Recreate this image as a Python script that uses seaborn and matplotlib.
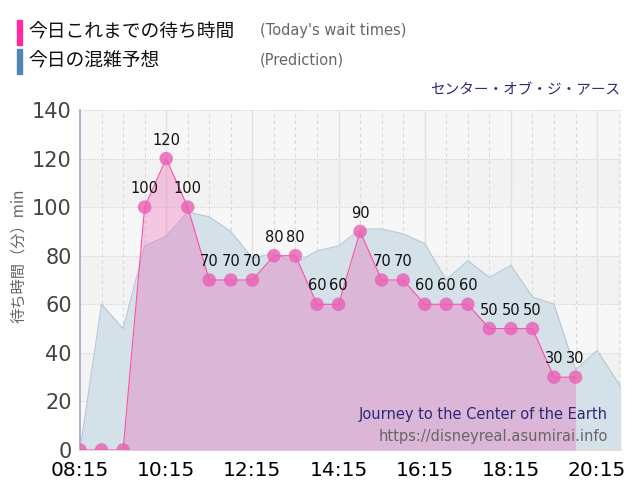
import numpy as np
import pandas as pd
import matplotlib
matplotlib.use("Agg")
import matplotlib.pyplot as plt
import seaborn as sns

# data
wait_times = ["08:15", "08:45", "09:15", "09:45", "10:15", "10:45", "11:15", "11:45",
              "12:15", "12:45", "13:15", "13:45", "14:15", "14:45", "15:15", "15:45",
              "16:15", "16:45", "17:15", "17:45", "18:15", "18:45", "19:15", "19:45"]
wait_values = [0, 0, 0, 100, 120, 100, 70, 70, 70, 80, 80, 60, 60, 90, 70, 70,
               60, 60, 60, 50, 50, 50, 30, 30]

pred_times = ["08:15", "08:45", "09:15", "09:45", "10:15", "10:45", "11:15", "11:45",
              "12:15", "12:45", "13:15", "13:45", "14:15", "14:45", "15:15", "15:45",
              "16:15", "16:45", "17:15", "17:45", "18:15", "18:45", "19:15", "19:45",
              "20:15", "20:48"]
pred_values = [0, 60, 50, 84, 88, 98, 96, 90, 79, 81, 77, 82, 84, 91, 91, 89,
               85, 70, 78, 71, 76, 63, 60, 33, 41, 26]

tick_labels = ["08:15", "10:15", "12:15", "14:15", "16:15", "18:15", "20:15"]


def to_hours(s):
    h, m = s.split(":")
    return int(h) + int(m) / 60


wait = pd.DataFrame({"t": [to_hours(s) for s in wait_times], "v": wait_values})
pred = pd.DataFrame({"t": [to_hours(s) for s in pred_times], "v": pred_values})
ticks = [to_hours(s) for s in tick_labels]

sns.set_theme(style="white")
plt.rcParams["font.family"] = ["Noto Sans CJK JP", "DejaVu Sans"]
latin = ["DejaVu Sans"]

fig = plt.figure(figsize=(6.4, 5.0), dpi=100)
ax = fig.add_axes([0.125, 0.1, 0.845, 0.68])

xmin, xmax = to_hours("08:15"), to_hours("20:48")
ax.set_xlim(xmin, xmax)
ax.set_ylim(0, 140)

# banded background
band_cols = ["#f7f7f7", "#f2f2f2"]
for i, y0 in enumerate(range(0, 140, 20)):
    ax.axhspan(y0, y0 + 20, color=band_cols[i % 2], zorder=0, lw=0)

for y in range(20, 141, 20):
    ax.axhline(y, color="#cfcfcf", lw=0.8, ls=(0, (1, 1.5)), zorder=1)
t = xmin + 0.5
while t < xmax:
    ax.axvline(t, color="#d8d8d8", lw=0.8, ls=(0, (3, 3)), zorder=1)
    t += 0.5
for tk in ticks[1:]:
    ax.axvline(tk, color="#e2e2e2", lw=1.0, zorder=1)

# prediction area
ax.fill_between(pred["t"], pred["v"], color="#d5e1e9", zorder=2, lw=0)
sns.lineplot(data=pred, x="t", y="v", ax=ax, color="#b4c7d6", lw=0.8, zorder=3)

# today's wait times
ax.fill_between(wait["t"], wait["v"], color="#ef55b0", alpha=0.3, zorder=4, lw=0)
sns.lineplot(data=wait, x="t", y="v", ax=ax, color="#ff4fa8", lw=0.8, zorder=5)
sns.scatterplot(data=wait, x="t", y="v", ax=ax, color="#ea5fb4", s=95, alpha=0.8,
                edgecolor="none", zorder=6)

for tv, vv in zip(wait["t"], wait["v"]):
    if vv > 0:
        ax.text(tv, vv + 4.5, str(vv), ha="center", va="bottom", fontsize=10.5,
                color="#111111", family=latin, zorder=7)

ax.set_xticks(ticks)
ax.set_xticklabels(tick_labels)
ax.set_yticks(range(0, 141, 20))
ax.tick_params(axis="x", labelsize=14.5, colors="#000000", length=6, color="#d0d0d0", pad=2)
ax.tick_params(axis="y", labelsize=15, labelcolor="#444444", length=0, pad=6)
for lab in ax.get_xticklabels() + ax.get_yticklabels():
    lab.set_family(latin)
ax.set_xlabel("")
ax.set_ylabel("待ち時間（分）min", fontsize=11, color="#666666", labelpad=4)
ax.yaxis.set_label_coords(-0.098, 0.57)

for s in ["top", "right"]:
    ax.spines[s].set_visible(False)
ax.spines["left"].set_color("#a8a8c8")
ax.spines["bottom"].set_color("#dddddd")

# watermark texts
ax.text(0.976, 0.103, "Journey to the Center of the Earth", transform=ax.transAxes,
        ha="right", va="center", fontsize=10.5, color="#2a2a78", family=latin, zorder=8)
ax.text(0.976, 0.041, "https://disneyreal.asumirai.info", transform=ax.transAxes,
        ha="right", va="center", fontsize=10.5, color="#666666", family=latin, zorder=8)

# header legend
fig.patches.append(plt.Rectangle((17 / 640, 1 - 45 / 500), 5 / 640, 25 / 500,
                                 transform=fig.transFigure, color="#ff2a9d"))
fig.patches.append(plt.Rectangle((17 / 640, 1 - 74 / 500), 5 / 640, 25 / 500,
                                 transform=fig.transFigure, color="#4f86b5"))
fig.text(28 / 640, 1 - 32 / 500, "今日これまでの待ち時間", fontsize=13.5, color="#111111",
         va="center")
fig.text(260 / 640, 1 - 31 / 500, "(Today's wait times)", fontsize=10.5,
         color="#666666", va="center", family=latin)
fig.text(28 / 640, 1 - 61 / 500, "今日の混雑予想", fontsize=13.5, color="#111111",
         va="center")
fig.text(260 / 640, 1 - 60 / 500, "(Prediction)", fontsize=10.5, color="#666666",
         va="center", family=latin)
fig.text(620 / 640, 1 - 90 / 500, "センター・オブ・ジ・アース", fontsize=10.5,
         color="#2a2a78", ha="right", va="center")

fig.savefig("out.png", dpi=100)
